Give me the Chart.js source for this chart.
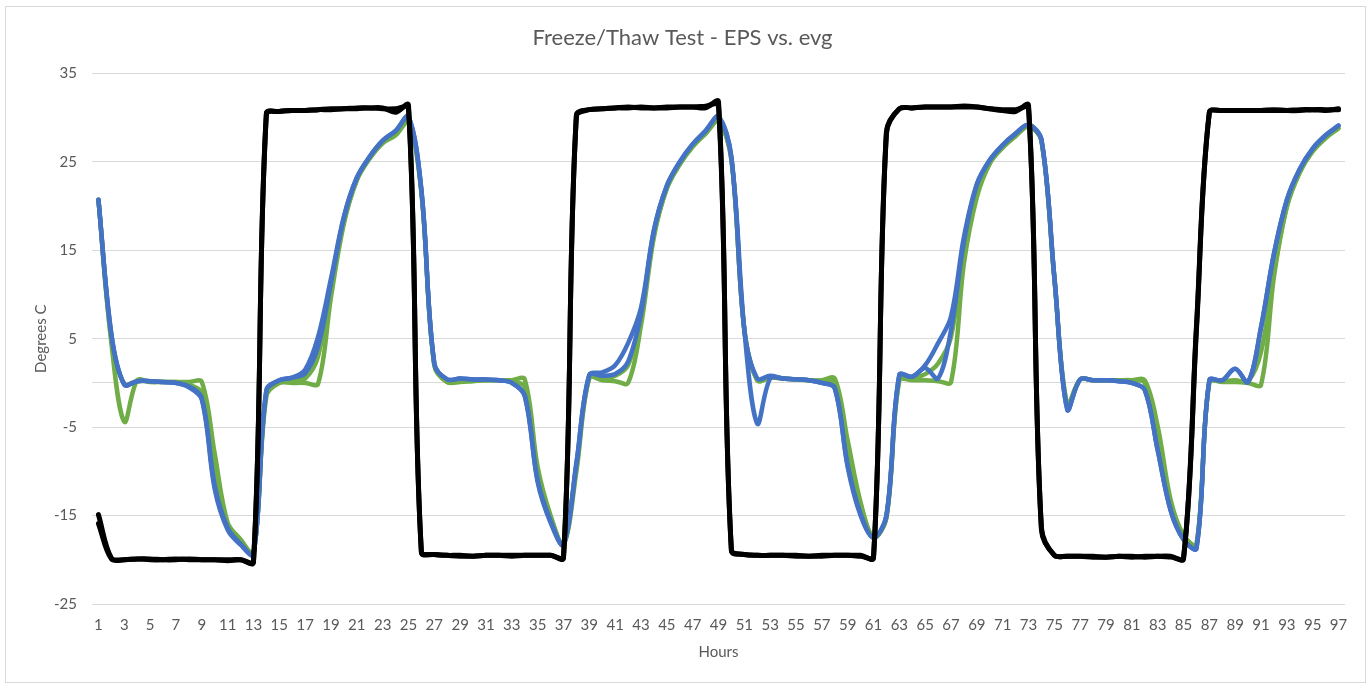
<!DOCTYPE html>
<html>
<head>
<meta charset="utf-8">
<title>Freeze/Thaw Test - EPS vs. evg</title>
<script src="https://cdn.jsdelivr.net/npm/chart.js@4.4.1/dist/chart.umd.min.js"></script>
<style>
    html, body { margin: 0; padding: 0; background: #fff; }
    #frame { position: absolute; left: 5px; top: 6px; width: 1359px; height: 675px; border: 1px solid #d9d9d9; }
    #wrap { position: absolute; left: 0; top: 0; width: 1369px; height: 683px; }
</style>
</head>
<body>
<div id="frame"></div>
<div id="wrap"><canvas id="chart"></canvas></div>
<script>
const hours = [
    1, 2, 3, 4, 5, 6, 7, 8, 9, 10, 11, 12, 13, 14, 15, 16, 17, 18, 19, 20,
    21, 22, 23, 24, 25, 26, 27, 28, 29, 30, 31, 32, 33, 34, 35, 36, 37, 38, 39, 40,
    41, 42, 43, 44, 45, 46, 47, 48, 49, 50, 51, 52, 53, 54, 55, 56, 57, 58, 59, 60,
    61, 62, 63, 64, 65, 66, 67, 68, 69, 70, 71, 72, 73, 74, 75, 76, 77, 78, 79, 80,
    81, 82, 83, 84, 85, 86, 87, 88, 89, 90, 91, 92, 93, 94, 95, 96, 97
];

// y axis ticks (0 is the category axis line, drawn without a label)
const yTicks = [-25, -15, -5, 0, 5, 15, 25, 35];

// air / chamber temperature (two probes)
const blackA = [
    -14.9, -19.8, -20.0, -19.9, -19.9, -20.0, -20.0, -19.9, -20.0, -20.0, -20.0, -20.0,
    -20.3, 30.4, 30.7, 30.8, 30.8, 30.9, 31.0, 31.0, 31.1, 31.1, 31.1, 30.6,
    31.4, -19.1, -19.4, -19.5, -19.6, -19.6, -19.5, -19.5, -19.5, -19.5, -19.5, -19.5,
    -19.8, 30.2, 30.9, 31.0, 31.1, 31.1, 31.2, 31.1, 31.1, 31.2, 31.2, 31.1,
    31.8, -18.9, -19.4, -19.5, -19.5, -19.5, -19.5, -19.6, -19.6, -19.5, -19.5, -19.5,
    -19.8, 28.4, 31.0, 31.1, 31.2, 31.2, 31.2, 31.3, 31.2, 31.0, 30.8, 30.7,
    31.4, -16.6, -19.5, -19.6, -19.6, -19.7, -19.7, -19.6, -19.6, -19.7, -19.6, -19.6,
    -19.9, 6.0, 30.6, 30.8, 30.8, 30.8, 30.8, 30.8, 30.8, 30.9, 30.9, 30.8,
    31.0
];
const blackB = [
    -15.9, -19.9, -20.0, -19.9, -20.0, -20.0, -19.9, -20.0, -20.0, -20.0, -20.1, -20.0,
    -20.2, 30.5, 30.7, 30.8, 30.8, 30.9, 30.9, 31.0, 31.0, 31.1, 31.0, 31.0,
    31.1, -19.2, -19.4, -19.5, -19.5, -19.6, -19.5, -19.5, -19.6, -19.5, -19.5, -19.5,
    -19.7, 30.3, 30.9, 31.0, 31.1, 31.2, 31.1, 31.1, 31.2, 31.2, 31.2, 31.3,
    31.4, -19.0, -19.4, -19.5, -19.5, -19.5, -19.6, -19.6, -19.5, -19.5, -19.5, -19.6,
    -19.7, 28.2, 31.0, 31.1, 31.2, 31.2, 31.2, 31.2, 31.2, 31.0, 30.9, 30.9,
    31.1, -16.4, -19.5, -19.6, -19.6, -19.6, -19.7, -19.6, -19.7, -19.6, -19.6, -19.7,
    -19.8, 6.4, 30.6, 30.8, 30.8, 30.8, 30.8, 30.9, 30.8, 30.8, 30.9, 30.9,
    30.9
];

// EPS sensors
const blueA = [
    20.7, 5.5, -0.2, 0.2, 0.2, 0.1, 0.0, -0.5, -1.9, -12.0, -16.6, -18.3,
    -19.4, -0.8, 0.3, 0.6, 1.5, 5.2, 11.8, 18.8, 23.2, 25.6, 27.4, 28.5,
    30.1, 21.8, 2.2, 0.4, 0.5, 0.4, 0.4, 0.3, 0.0, -1.5, -11.2, -15.8,
    -18.3, -9.0, 0.9, 1.2, 2.0, 4.5, 8.5, 17.3, 22.3, 25.0, 27.0, 28.5,
    30.1, 25.5, 6.0, 0.5, 0.8, 0.5, 0.4, 0.3, 0.0, -0.6, -9.5, -15.0,
    -17.5, -15.0, 0.9, 0.7, 2.0, 4.5, 7.5, 16.5, 22.5, 25.2, 26.9, 28.2,
    29.2, 27.5, 12.0, -3.0, 0.4, 0.3, 0.3, 0.2, 0.0, -0.8, -7.6, -14.4,
    -17.7, -18.7, 0.3, 0.3, 1.6, 0.1, 6.3, 14.6, 20.7, 24.2, 26.5, 28.0,
    29.1
];
const blueB = [
    20.7, 5.5, -0.2, 0.2, 0.2, 0.1, 0.0, -0.4, -1.7, -11.6, -16.4, -18.2,
    -19.4, -0.9, 0.3, 0.6, 1.1, 4.1, 11.3, 18.7, 23.2, 25.6, 27.4, 28.5,
    30.1, 21.8, 2.2, 0.4, 0.5, 0.4, 0.4, 0.3, 0.0, -1.4, -11.0, -15.6,
    -18.3, -9.2, 0.9, 0.8, 1.0, 2.4, 7.8, 17.2, 22.3, 25.0, 27.0, 28.5,
    30.1, 25.5, 6.0, -4.6, 0.5, 0.5, 0.4, 0.3, 0.0, -0.6, -9.3, -14.8,
    -17.5, -15.0, 0.9, 0.7, 1.7, 0.5, 6.0, 16.0, 22.4, 25.2, 26.9, 28.2,
    29.2, 27.5, 12.0, -3.0, 0.4, 0.3, 0.3, 0.2, 0.0, -0.8, -7.6, -14.4,
    -17.7, -18.7, 0.3, 0.3, 1.6, 0.1, 6.3, 14.6, 20.7, 24.2, 26.5, 28.0,
    29.1
];

// evg sensors
const greenA = [
    20.7, 4.5, -4.4, 0.3, 0.1, 0.1, 0.1, 0.1, 0.1, -8.0, -15.8, -17.7,
    -19.3, -1.5, 0.0, 0.0, 0.0, -0.1, 9.7, 18.0, 22.9, 25.4, 27.1, 28.0,
    29.5, 21.5, 2.0, 0.1, 0.1, 0.2, 0.3, 0.3, 0.3, 0.4, -9.5, -15.0,
    -18.3, -10.0, 0.6, 0.3, 0.2, 0.0, 6.5, 16.5, 22.0, 24.7, 26.7, 28.2,
    29.6, 25.2, 6.0, 0.3, 0.6, 0.5, 0.4, 0.3, 0.3, 0.5, -6.5, -13.5,
    -17.5, -15.2, 0.3, 0.3, 0.3, 0.2, 0.1, 13.5, 21.0, 24.8, 26.6, 27.9,
    29.0, 27.4, 11.8, -2.5, 0.4, 0.3, 0.3, 0.3, 0.3, 0.3, -4.9, -13.2,
    -17.2, -18.3, 0.1, 0.1, 0.1, 0.0, -0.2, 12.0, 19.9, 23.8, 26.2, 27.7,
    28.8
];
const greenB = [
    20.7, 5.0, -0.1, 0.2, 0.2, 0.1, 0.1, -0.2, -1.1, -9.5, -16.0, -17.8,
    -19.3, -1.2, 0.2, 0.3, 0.5, 3.0, 11.0, 18.3, 23.0, 25.4, 27.2, 28.1,
    29.6, 21.6, 2.0, 0.1, 0.2, 0.3, 0.3, 0.3, 0.2, -0.5, -10.5, -15.2,
    -18.3, -9.5, 0.6, 0.5, 0.8, 2.0, 7.5, 16.8, 22.0, 24.8, 26.8, 28.2,
    29.6, 25.3, 6.0, 0.3, 0.6, 0.5, 0.4, 0.3, 0.2, 0.0, -7.8, -13.8,
    -17.5, -15.2, 0.5, 0.5, 1.0, 2.2, 5.2, 15.0, 21.5, 24.9, 26.7, 28.0,
    29.0, 27.4, 11.8, -2.5, 0.4, 0.3, 0.3, 0.3, 0.3, 0.0, -5.5, -13.6,
    -17.3, -18.3, 0.2, 0.2, 0.3, 0.2, 3.5, 12.5, 20.0, 23.9, 26.2, 27.7,
    28.8
];

const TEXT = '#595959';
const GRID = '#d9d9d9';
Chart.defaults.font.family = "Lato, 'Liberation Sans', sans-serif";
Chart.defaults.color = TEXT;

function line(label, data, color, width) {
    return {
        label: label,
        data: data,
        borderColor: color,
        backgroundColor: color,
        borderWidth: width,
        pointRadius: 0,
        pointHoverRadius: 0,
        tension: 0.35,
        borderCapStyle: 'round',
        borderJoinStyle: 'round',
        fill: false
    };
}

// first dataset is painted last, so black ends up on top
const datasets = [
    line('Air 1', blackA, '#000000', 5),
    line('Air 2', blackB, '#000000', 5),
    line('EPS 1', blueA, '#4472C4', 4.5),
    line('EPS 2', blueB, '#4472C4', 4.5),
    line('evg 1', greenA, '#70AD47', 4.5),
    line('evg 2', greenB, '#70AD47', 4.5)
];

new Chart(document.getElementById('chart'), {
    type: 'line',
    data: { labels: hours, datasets: datasets },
    options: {
        responsive: true,
        maintainAspectRatio: false,
        animation: false,
        layout: { padding: { left: 20, right: 24, top: 0, bottom: 0 } },
        plugins: {
            legend: { display: false },
            tooltip: { enabled: false },
            title: {
                display: true,
                text: 'Freeze/Thaw Test - EPS vs. evg',
                color: TEXT,
                font: { size: 22, weight: 'normal' },
                padding: { top: 25, bottom: 22 }
            }
        },
        scales: {
            x: {
                offset: true,
                grid: { display: false, drawTicks: false },
                border: { display: false },
                ticks: {
                    autoSkip: false,
                    maxRotation: 0,
                    minRotation: 0,
                    padding: 12,
                    color: TEXT,
                    font: { size: 15 },
                    callback: (v, i) => (i % 2 === 0 ? hours[i] : '')
                },
                title: {
                    display: true,
                    text: 'Hours',
                    color: TEXT,
                    font: { size: 15 },
                    padding: { top: 22, bottom: 22 }
                },
                afterFit: s => { s.height = 79; }
            },
            y: {
                min: -25,
                max: 35,
                grid: { color: GRID, lineWidth: 1, drawTicks: false },
                border: { display: false },
                afterBuildTicks: s => { s.ticks = yTicks.map(v => ({ value: v })); },
                ticks: {
                    padding: 15,
                    color: TEXT,
                    font: { size: 15 },
                    callback: v => (v === 0 ? '' : v)
                },
                title: {
                    display: true,
                    text: 'Degrees C',
                    color: TEXT,
                    font: { size: 15 },
                    padding: { top: 12, bottom: 12 }
                },
                afterFit: s => { s.width = 72; }
            }
        }
    }
});
</script>
</body>
</html>
